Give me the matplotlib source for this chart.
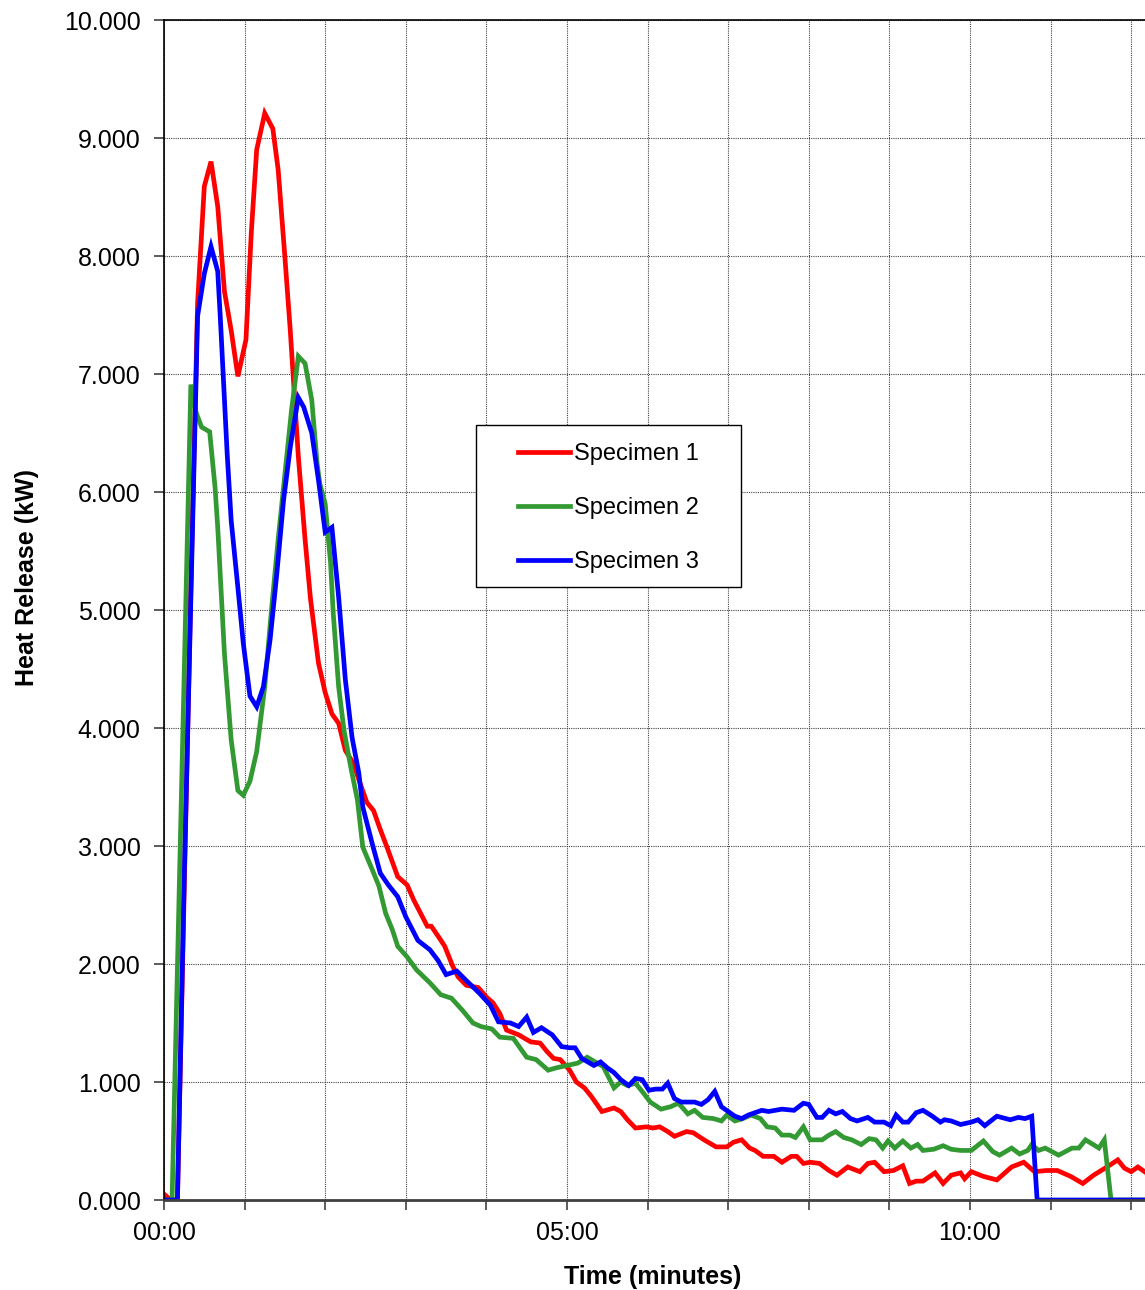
import matplotlib
matplotlib.use("Agg")
import matplotlib.pyplot as plt
from matplotlib.ticker import FixedLocator, FuncFormatter
from matplotlib.patches import Rectangle

plt.rcParams['font.family'] = ['Liberation Sans', 'DejaVu Sans']

# ---- data (time in seconds, heat release in kW) ----
series_names = ["Specimen 1", "Specimen 2", "Specimen 3"]

spec1_t = [0, 5, 10, 15, 20, 25, 30, 35, 40, 45, 50, 55, 61, 65, 69, 75, 81, 85, 90, 94,
           100, 105, 109, 115, 120, 125, 130, 135, 141, 146, 151, 156, 161, 166, 174, 181,
           186, 191, 196, 199, 205, 209, 215, 219, 225, 234, 240, 245, 250, 255, 264, 273,
           280, 285, 290, 295, 302, 307, 313, 318, 326, 335, 340, 345, 351, 359, 364, 369,
           375, 380, 389, 394, 402, 411, 419, 424, 430, 436, 440, 446, 454, 460, 467, 471,
           476, 481, 488, 495, 501, 509, 518, 524, 529, 536, 543, 550, 555, 560, 565, 574,
           580, 586, 593, 596, 601, 610, 620, 631, 640, 648, 657, 665, 675, 684, 692, 702,
           710, 715, 720, 725, 730]
spec1_v = [0.05, 0.0, 0.0, 2.6, 5.2, 7.6, 8.59, 8.80, 8.42, 7.70, 7.37, 6.98, 7.29, 8.2, 8.90,
           9.21, 9.08, 8.73, 7.99, 7.37, 6.3, 5.6, 5.1, 4.55, 4.3, 4.12, 4.04, 3.81, 3.70, 3.53,
           3.37, 3.30, 3.14, 2.99, 2.74, 2.67, 2.54, 2.43, 2.32, 2.32, 2.22, 2.15, 1.98, 1.89,
           1.82, 1.80, 1.72, 1.67, 1.58, 1.44, 1.40, 1.34, 1.33, 1.26, 1.20, 1.19, 1.10, 1.00,
           0.95, 0.88, 0.75, 0.78, 0.75, 0.68, 0.61, 0.62, 0.61, 0.62, 0.58, 0.54, 0.58, 0.57,
           0.51, 0.45, 0.45, 0.49, 0.51, 0.44, 0.42, 0.37, 0.37, 0.32, 0.37, 0.37, 0.31, 0.32,
           0.31, 0.25, 0.21, 0.28, 0.24, 0.31, 0.32, 0.24, 0.25, 0.29, 0.14, 0.16, 0.16, 0.23,
           0.14, 0.21, 0.23, 0.18, 0.24, 0.20, 0.17, 0.28, 0.32, 0.24, 0.25, 0.25, 0.20, 0.14,
           0.21, 0.28, 0.34, 0.27, 0.24, 0.28, 0.24]

spec2_t = [0, 6, 20, 24, 28, 34, 38, 40, 45, 50, 55, 59, 64, 69, 75, 80, 85, 90, 95, 100,
           105, 110, 114, 116, 120, 124, 126, 130, 134, 139, 144, 148, 155, 160, 165, 170,
           174, 181, 188, 198, 206, 214, 222, 230, 236, 244, 250, 260, 270, 277, 286, 292,
           300, 308, 315, 321, 327, 335, 340, 345, 351, 356, 362, 370, 377, 383, 390, 395,
           401, 409, 415, 419, 425, 431, 437, 444, 449, 455, 460, 466, 470, 476, 481, 490,
           495, 500, 506, 512, 519, 525, 530, 535, 539, 544, 550, 556, 561, 565, 573, 580,
           586, 593, 601, 610, 617, 622, 631, 637, 643, 646, 651, 656, 666, 676, 681, 686,
           696, 700, 705, 730]
spec2_v = [0.0, 0.0, 6.91, 6.67, 6.55, 6.51, 6.04, 5.70, 4.63, 3.90, 3.47, 3.43, 3.55, 3.80,
           4.35, 5.0, 5.6, 6.15, 6.7, 7.15, 7.09, 6.78, 6.24, 6.07, 5.90, 5.40, 4.97, 4.35,
           3.98, 3.67, 3.39, 2.99, 2.80, 2.66, 2.43, 2.29, 2.15, 2.06, 1.95, 1.84, 1.74, 1.71,
           1.61, 1.50, 1.47, 1.45, 1.38, 1.37, 1.21, 1.19, 1.10, 1.12, 1.14, 1.16, 1.21, 1.17,
           1.13, 0.95, 1.00, 0.97, 0.99, 0.92, 0.83, 0.77, 0.79, 0.82, 0.73, 0.76, 0.70, 0.69,
           0.67, 0.72, 0.67, 0.69, 0.72, 0.69, 0.62, 0.61, 0.55, 0.55, 0.53, 0.62, 0.51, 0.51,
           0.55, 0.58, 0.53, 0.51, 0.47, 0.52, 0.51, 0.44, 0.50, 0.44, 0.50, 0.44, 0.47, 0.42,
           0.43, 0.46, 0.43, 0.42, 0.42, 0.50, 0.41, 0.38, 0.44, 0.39, 0.42, 0.47, 0.42, 0.44,
           0.38, 0.44, 0.44, 0.51, 0.44, 0.51, 0.0, 0.0]

spec3_t = [0, 10, 15, 20, 25, 30, 35, 40, 42, 47, 50, 55, 59, 64, 69, 74, 79, 84, 89, 94,
           100, 104, 110, 115, 120, 125, 130, 135, 140, 145, 148, 155, 161, 167, 174, 180,
           189, 198, 204, 210, 218, 225, 235, 243, 249, 258, 264, 270, 275, 281, 289, 296,
           302, 306, 311, 320, 325, 330, 335, 340, 346, 351, 356, 361, 366, 371, 375, 380,
           385, 390, 395, 400, 405, 410, 415, 420, 425, 430, 435, 440, 445, 450, 460, 469,
           476, 480, 486, 490, 495, 500, 505, 511, 516, 524, 529, 536, 541, 545, 550, 554,
           560, 565, 572, 578, 581, 586, 593, 601, 606, 611, 620, 630, 636, 641, 646, 650,
           730]
spec3_v = [0.0, 0.0, 2.7, 5.1, 7.49, 7.85, 8.08, 7.87, 7.46, 6.33, 5.76, 5.19, 4.72, 4.27,
           4.18, 4.35, 4.75, 5.31, 5.93, 6.38, 6.80, 6.72, 6.50, 6.10, 5.66, 5.70, 5.11, 4.41,
           3.92, 3.62, 3.33, 3.02, 2.77, 2.67, 2.57, 2.40, 2.20, 2.12, 2.03, 1.91, 1.94, 1.86,
           1.75, 1.65, 1.51, 1.50, 1.47, 1.55, 1.42, 1.46, 1.40, 1.30, 1.29, 1.29, 1.20, 1.14,
           1.17, 1.12, 1.08, 1.02, 0.97, 1.03, 1.02, 0.93, 0.94, 0.94, 0.99, 0.86, 0.83, 0.83,
           0.83, 0.81, 0.85, 0.92, 0.79, 0.75, 0.71, 0.69, 0.72, 0.74, 0.76, 0.75, 0.77, 0.76,
           0.82, 0.81, 0.70, 0.70, 0.76, 0.73, 0.75, 0.69, 0.67, 0.70, 0.66, 0.66, 0.63, 0.72,
           0.66, 0.66, 0.74, 0.76, 0.71, 0.66, 0.68, 0.67, 0.64, 0.66, 0.68, 0.63, 0.71, 0.68,
           0.70, 0.69, 0.71, 0.0, 0.0]

series_t = [spec1_t, spec2_t, spec3_t]
series_v = [spec1_v, spec2_v, spec3_v]
colors = ["#FF0000", "#339933", "#0000FF"]

x_ticks = list(range(0, 721, 60))
x_labels = {0: "00:00", 300: "05:00", 600: "10:00"}
y_ticks = [0, 1, 2, 3, 4, 5, 6, 7, 8, 9, 10]

# ---- figure ----
W, H = 1145, 1290
fig = plt.figure(figsize=(W / 100, H / 100), dpi=100)
ax_left, ax_bottom, ax_w, ax_h = 164, 90, 981, 1180
ax = fig.add_axes([ax_left / W, ax_bottom / H, ax_w / W, ax_h / H])


def px_to_axes(px, py):
    return ((px - ax_left) / ax_w, (H - ax_bottom - py) / ax_h)


for t, v, c, name in zip(series_t, series_v, colors, series_names):
    ax.plot(t, v, color=c, lw=3.4, label=name, solid_joinstyle='miter')

ax.set_xlim(0, 730.3)
ax.set_ylim(0, 10)

ax.xaxis.set_major_locator(FixedLocator(x_ticks))
ax.xaxis.set_major_formatter(FuncFormatter(lambda x, p: x_labels.get(int(round(x)), "")))
ax.yaxis.set_major_locator(FixedLocator(y_ticks))
ax.yaxis.set_major_formatter(FuncFormatter(lambda y, p: f"{y:.3f}"))

ax.grid(True, which='major', color='#444444', linestyle=(0, (1, 1)), linewidth=0.8)
ax.set_axisbelow(True)

ax.spines['right'].set_visible(False)
ax.spines['top'].set_color('black')
ax.spines['top'].set_linewidth(1.2)
ax.spines['left'].set_color('black')
ax.spines['left'].set_linewidth(1.2)
ax.spines['bottom'].set_color('#404040')
ax.spines['bottom'].set_linewidth(2.0)

ax.tick_params(axis='both', direction='out', length=7, width=1.2, color='#404040',
               labelsize=18, labelcolor='black')
ax.tick_params(axis='x', pad=8)
ax.tick_params(axis='y', pad=10)

ax.set_xlabel("Time (minutes)", fontsize=18, fontweight='bold')
ax.set_ylabel("Heat Release (kW)", fontsize=18, fontweight='bold')
ax.xaxis.set_label_coords(*px_to_axes(653, 1265))
ax.yaxis.set_label_coords(*px_to_axes(39, 578))

# legend: entries without frame, frame drawn as a rectangle
leg = ax.legend(loc='upper left', bbox_to_anchor=px_to_axes(518, 443), borderaxespad=0,
                borderpad=0, fontsize=17, frameon=False,
                handlelength=2.2, handletextpad=0.17, labelspacing=1.36)
x0, y1 = px_to_axes(476, 425)
x1, y0 = px_to_axes(741, 587)
ax.add_patch(Rectangle((x0, y0), x1 - x0, y1 - y0, transform=ax.transAxes,
                       facecolor='white', edgecolor='black', linewidth=1.0, zorder=4))
leg.set_zorder(5)

fig.savefig("out.png", dpi=100)
